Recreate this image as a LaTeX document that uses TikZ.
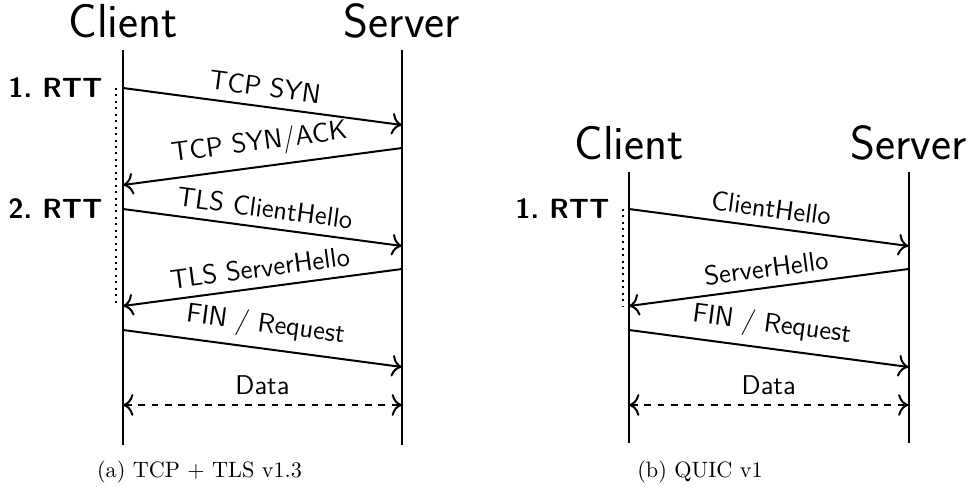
\documentclass[tikz,border=0pt]{standalone}
\usepackage{fontspec}
\usetikzlibrary{arrows.meta}
\begin{document}
\begin{tikzpicture}[x=0.45pt,y=-0.45pt,
  life/.style={line width=0.9pt},
  msg/.style={line width=0.9pt,-{To[scale=1.3]}},
  bmsg/.style={line width=0.9pt,{To[scale=1.3]}-{To[scale=1.3]}, dashed},
  lbl/.style={font=\fontsize{12.2}{14}\selectfont\sffamily, midway, above=0.6pt, sloped},
  ttl/.style={font=\fontsize{21.5}{24}\selectfont\sffamily, anchor=base},
  rtt/.style={font=\fontsize{12.5}{14}\selectfont\sffamily\bfseries, anchor=east, inner sep=0pt},
  capt/.style={font=\fontsize{10}{12}\selectfont, anchor=base},
  rttline/.style={line width=0.9pt, dotted}]
\useasboundingbox (0,0) rectangle (970,487);
% ---------- (a) TCP + TLS ----------
\node[ttl] (lc) at (123,38) {Client};
\node[ttl] (ls) at (402,38) {Server};
\coordinate (lct) at (123,50); \coordinate (lcb) at (123,445);
\coordinate (lst) at (402,50); \coordinate (lsb) at (402,445);
\draw[life] (lct) -- (lcb);
\draw[life] (lst) -- (lsb);
\coordinate (a1) at (123,88);  \coordinate (b1) at (402,125);
\coordinate (b2) at (402,148); \coordinate (a2) at (123,185);
\coordinate (a3) at (123,209); \coordinate (b3) at (402,246);
\coordinate (b4) at (402,269); \coordinate (a4) at (123,306);
\coordinate (a5) at (123,330); \coordinate (b5) at (402,367);
\coordinate (a6) at (123,405); \coordinate (b6) at (402,405);
\draw[msg] (a1) -- node[lbl] (m1) {TCP SYN} (b1);
\draw[msg] (b2) -- node[lbl] (m2) {TCP SYN/ACK} (a2);
\draw[msg] (a3) -- node[lbl] (m3) {TLS ClientHello} (b3);
\draw[msg] (b4) -- node[lbl] (m4) {TLS ServerHello} (a4);
\draw[msg] (a5) -- node[lbl] (m5) {FIN / Request} (b5);
\draw[bmsg] (a6) -- node[lbl] (m6) {Data} (b6);
\coordinate (d1) at (116,88); \coordinate (d2) at (116,306);
\draw[rttline] (d1) -- (d2);
\node[rtt] (r1) at (103,88) {1.\ RTT};
\node[rtt] (r2) at (103,209) {2.\ RTT};
\node[capt] (ca) at (199.5,477) {(a) TCP + TLS v1.3};
% ---------- (b) QUIC ----------
\node[ttl] (rc) at (629,159) {Client};
\node[ttl] (rs) at (908.5,159) {Server};
\coordinate (rct) at (629,172); \coordinate (rcb) at (629,443);
\coordinate (rst) at (908.5,172); \coordinate (rsb) at (908.5,443);
\draw[life] (rct) -- (rcb);
\draw[life] (rst) -- (rsb);
\coordinate (p1) at (629,209);   \coordinate (q1) at (908.5,246);
\coordinate (q2) at (908.5,269); \coordinate (p2) at (629,306);
\coordinate (p3) at (629,330);   \coordinate (q3) at (908.5,367);
\coordinate (p4) at (629,405);   \coordinate (q4) at (908.5,405);
\draw[msg] (p1) -- node[lbl] (n1) {ClientHello} (q1);
\draw[msg] (q2) -- node[lbl] (n2) {ServerHello} (p2);
\draw[msg] (p3) -- node[lbl] (n3) {FIN / Request} (q3);
\draw[bmsg] (p4) -- node[lbl] (n4) {Data} (q4);
\coordinate (e1) at (622.5,209); \coordinate (e2) at (622.5,306);
\draw[rttline] (e1) -- (e2);
\node[rtt] (r3) at (610,209) {1.\ RTT};
\node[capt] (cb) at (700,477) {(b) QUIC v1};
\end{tikzpicture}
\end{document}
